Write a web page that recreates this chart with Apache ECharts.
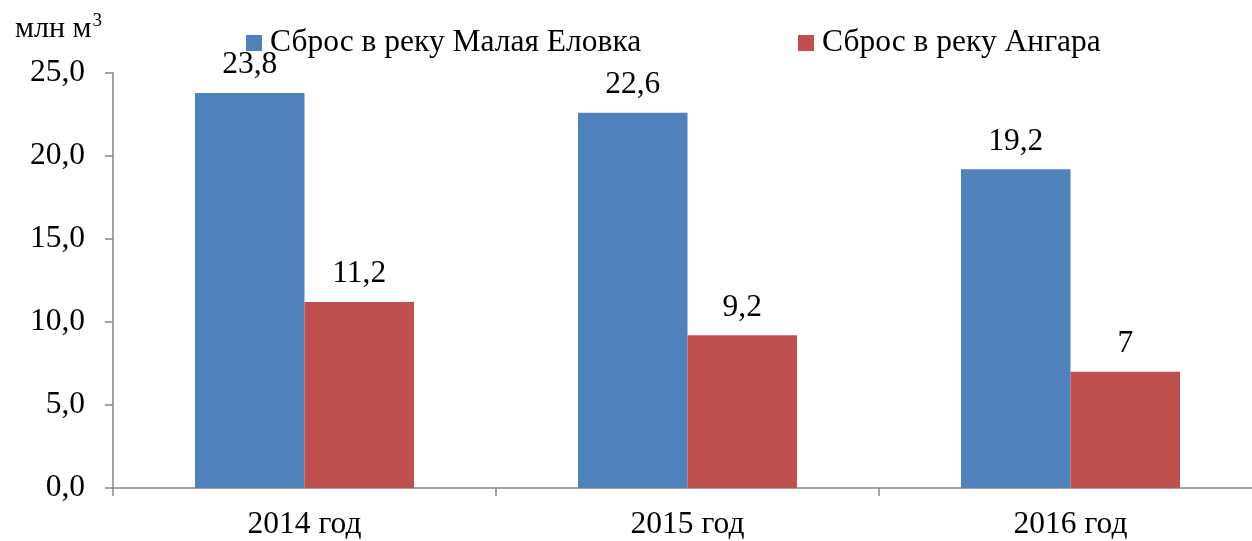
<!DOCTYPE html>
<html>
<head>
<meta charset="utf-8">
<script src="https://cdn.jsdelivr.net/npm/echarts@6/dist/echarts.min.js"></script>
<style>
  html, body { margin: 0; padding: 0; background: #fff; overflow: hidden; }
  /* the plot runs slightly past the right edge of the page */
  #chart { width: 1262px; height: 541px; }
</style>
</head>
<body>
<div id="chart"></div>
<script>
// Years shown on the category axis
const years = ['2014 год', '2015 год', '2016 год'];
// Discharge volumes, million m³
const maleyaElovka = [23.8, 22.6, 19.2];
const angara = [11.2, 9.2, 7];
// Series names
const seriesNames = ['Сброс в реку Малая Еловка', 'Сброс в реку Ангара'];

const FONT = '"Liberation Serif", "Times New Roman", serif';
const FS = 31.5;
const AXIS_COLOR = '#868686';

const comma = v => String(v).replace('.', ',');

const chart = echarts.init(document.getElementById('chart'));

const barLabel = {
  show: true,
  position: 'top',
  distance: 12,
  fontFamily: FONT,
  fontSize: FS,
  color: '#000',
  formatter: p => comma(p.value)
};

const legendBase = {
  top: 22,
  itemWidth: 16,
  itemHeight: 16,
  icon: 'rect',
  textStyle: { fontFamily: FONT, fontSize: FS, color: '#000', padding: [0, 0, 0, 3] }
};

chart.setOption({
  animation: false,
  textStyle: { fontFamily: FONT },
  title: {
    text: '{a|млн м}{b|3}',
    left: 10,
    top: 7,
    textStyle: {
      fontFamily: FONT,
      fontWeight: 'normal',
      rich: {
        a: { fontFamily: FONT, fontWeight: 'normal', fontSize: 30, color: '#000', verticalAlign: 'bottom', lineHeight: 32 },
        b: { fontFamily: FONT, fontWeight: 'normal', fontSize: 19, color: '#000', verticalAlign: 'top', lineHeight: 32, padding: [0, 0, 14, 1] }
      }
    }
  },
  legend: [
    Object.assign({ left: 241, data: [seriesNames[0]] }, legendBase),
    Object.assign({ left: 793, data: [seriesNames[1]] }, legendBase)
  ],
  grid: {
    left: 113,
    top: 73,
    bottom: 51,
    right: 0,
    containLabel: false
  },
  xAxis: {
    type: 'category',
    data: years,
    axisLine: { lineStyle: { color: AXIS_COLOR, width: 1.5 } },
    axisTick: { show: true, alignWithLabel: false, length: 8, lineStyle: { color: AXIS_COLOR, width: 1.5 } },
    axisLabel: { fontFamily: FONT, fontSize: FS, color: '#000', margin: 21 }
  },
  yAxis: {
    type: 'value',
    min: 0,
    max: 25,
    interval: 5,
    splitLine: { show: false },
    axisLine: { show: true, lineStyle: { color: AXIS_COLOR, width: 1.5 } },
    axisTick: { show: true, length: 8, lineStyle: { color: AXIS_COLOR, width: 1.5 } },
    axisLabel: {
      fontFamily: FONT, fontSize: FS, color: '#000', margin: 28,
      formatter: v => v.toFixed(1).replace('.', ',')
    }
  },
  series: [
    {
      name: seriesNames[0],
      type: 'bar',
      data: maleyaElovka,
      barWidth: 109.5,
      barGap: '0%',
      itemStyle: { color: '#4F81BD' },
      label: barLabel
    },
    {
      name: seriesNames[1],
      type: 'bar',
      data: angara,
      barWidth: 109.5,
      barGap: '0%',
      itemStyle: { color: '#C0504D' },
      label: barLabel
    }
  ]
});
</script>
</body>
</html>
